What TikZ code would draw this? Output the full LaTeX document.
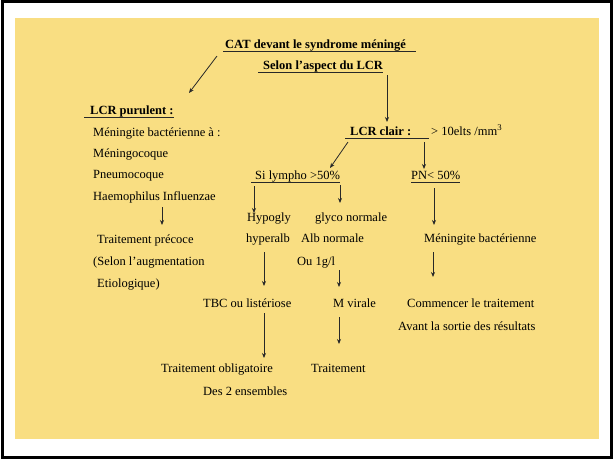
\documentclass[tikz,border=0pt]{standalone}
\usepackage{fontspec}
\setmainfont{Liberation Serif}
\usepackage{tikz}
\usetikzlibrary{arrows.meta, positioning, calc}
\definecolor{PageFill}{RGB}{249,222,130}
\definecolor{InkLine}{RGB}{40,40,40}

\begin{document}
\begin{tikzpicture}[
    x=1pt, y=-1pt,
    txt/.style={anchor=base west, inner sep=0pt, font=\fontsize{12.5}{15}\selectfont, text=black},
    head/.style={txt, font=\fontsize{12.5}{15}\selectfont\bfseries},
    ul/.style={line width=0.9pt, InkLine},
    arr/.style={-{Stealth[length=5pt, width=4pt]}, line width=0.8pt, InkLine}
]
\useasboundingbox (0,0) rectangle (613,459);

% ===================================================================
% Frame
% ===================================================================
\draw[line width=3pt, black] (2,1.5) rectangle (611,457.5);
\fill[PageFill] (15,18) rectangle (599,439);

% ===================================================================
% Titles
% ===================================================================
\node[head] (cat) at (225,48) {CAT devant le syndrome méningé};
\node[head] (selon) at (263,69) {Selon l’aspect du LCR};
\draw[ul] ([shift={(-2pt,-3pt)}]cat.base west) -- ([shift={(10pt,-3pt)}]cat.base east);
\draw[ul] ([shift={(-5pt,-3pt)}]selon.base west) -- ([shift={(0pt,-3pt)}]selon.base east);

% ===================================================================
% Left branch: LCR purulent
% ===================================================================
\node[head] (purulent) at (90,114) {LCR purulent :};
\draw[ul] ([shift={(-6pt,-3pt)}]purulent.base west) -- ([shift={(0pt,-3pt)}]purulent.base east);

\node[txt] (bact) at (93,136) {Méningite bactérienne à :};
\node[txt] (meningo) at (93,157) {Méningocoque};
\node[txt] (pneumo) at (93,178) {Pneumocoque};
\node[txt] (haemo) at (93,200) {Haemophilus Influenzae};
\node[txt] (precoce) at (97,243) {Traitement précoce};
\node[txt] (selonaug) at (93,265) {(Selon l’augmentation};
\node[txt] (etio) at (97,287) {Etiologique)};

% ===================================================================
% Right branch: LCR clair
% ===================================================================
\node[head] (clair) at (350,135) {LCR clair :};
\draw[ul] ([shift={(-5pt,-3pt)}]clair.base west) -- ([shift={(17pt,-3pt)}]clair.base east);
\node[txt] (elts) at (431,135) {> 10elts /mm\textsuperscript{3}};

\node[txt] (lympho) at (255,179) {Si lympho >50\%};
\draw[ul] ([shift={(-4pt,-3pt)}]lympho.base west) -- ([shift={(0pt,-3pt)}]lympho.base east);
\node[txt] (pn) at (411,179) {PN< 50\%};
\draw[ul] ([shift={(0pt,-3pt)}]pn.base west) -- ([shift={(0pt,-3pt)}]pn.base east);

\node[txt] (hypo) at (247,221) {Hypogly};
\node[txt] (glyco) at (315,221) {glyco normale};
\node[txt] (hyper) at (246,242) {hyperalb};
\node[txt] (alb) at (301,242) {Alb normale};
\node[txt] (bactb) at (424,242) {Méningite bactérienne};
\node[txt] (ou) at (297,265) {Ou 1g/l};

\node[txt] (tbc) at (203,307) {TBC ou listériose};
\node[txt] (virale) at (333,307) {M virale};
\node[txt] (commencer) at (407,307) {Commencer le traitement};
\node[txt] (avant) at (398,330) {Avant la sortie des résultats};

\node[txt] (oblig) at (161,372) {Traitement obligatoire};
\node[txt] (trait) at (311,372) {Traitement};
\node[txt] (ens) at (203,395) {Des 2 ensembles};

% ===================================================================
% Arrows
% ===================================================================
\foreach \n/\xa/\ya/\xb/\yb in {
    catpur/217/56/189/93, selclair/387/75/387/122,
    haemo/162/207/162/225, clairly/348/142/330/168,
    clairpn/424/142/424/169, lyhypo/254/186/254/213,
    lyglyco/340/185/340/203, pnbact/434/188/434/225,
    hyptbc/264/252/264/286, ouvir/339/270/339/287,
    bactcom/433/252/433/277, tbcobl/264/313/264/358,
    virtr/339/317/339/344} {
    \coordinate (\n-s) at (\xa,\ya);
    \coordinate (\n-e) at (\xb,\yb);
    \draw[arr] (\n-s) -- (\n-e);
}

\end{tikzpicture}
\end{document}
